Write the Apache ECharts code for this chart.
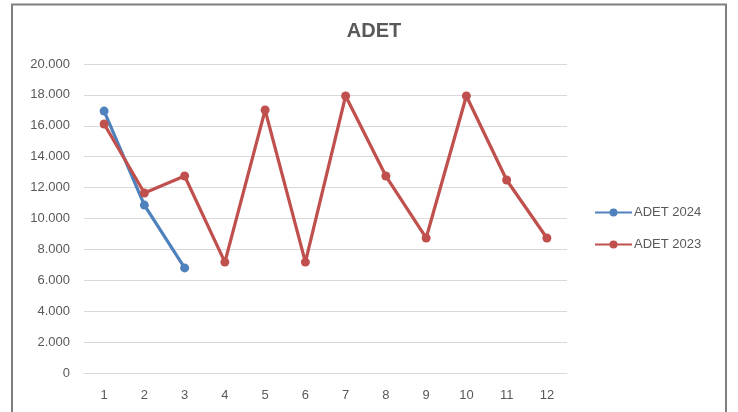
<!DOCTYPE html>
<html>
<head>
<meta charset="utf-8">
<script src="https://cdn.jsdelivr.net/npm/echarts@6/dist/echarts.min.js"></script>
<style>html,body{margin:0;padding:0;background:#fff;}#c{width:738px;height:412px;}</style>
</head>
<body>
<div id="c"></div>
<script>
var categories = ['1','2','3','4','5','6','7','8','9','10','11','12'];
var adet2024 = [16950, 10870, 6800];
var adet2023 = [16120, 11650, 12750, 7180, 17020, 7180, 17930, 12750, 8740, 17930, 12490, 8740];
var seriesNames = ['ADET 2024', 'ADET 2023'];

var chart = echarts.init(document.getElementById('c'), null, {renderer: 'canvas'});
var font = '"Liberation Sans", Arial, sans-serif';
function fmt(v){ return v === 0 ? '0' : String(v).replace(/\B(?=(\d{3})+(?!\d))/g, '.'); }
chart.setOption({
  animation: false,
  backgroundColor: '#fff',
  title: {
    text: 'ADET', left: 369, top: 16, textAlign: 'center',
    textStyle: {fontFamily: font, fontSize: 20, fontWeight: 'bold', color: '#595959'}
  },
  graphic: [{
    type: 'rect', shape: {x: 12, y: 4.5, width: 714, height: 420},
    style: {fill: 'none', stroke: '#7f7f7f', lineWidth: 2}, silent: true
  }],
  legend: {
    orient: 'vertical', left: 594, top: 206, padding: 0, itemGap: 19, itemWidth: 37, itemHeight: 10,
    data: seriesNames,
    textStyle: {fontFamily: font, fontSize: 13, color: '#595959', padding: [0,0,0,-3]}
  },
  grid: {left: 84, right: 171, top: 64, bottom: 39},
  xAxis: {
    type: 'category', data: categories, boundaryGap: true,
    axisLine: {show: true, lineStyle: {color: '#d9d9d9', width: 1}},
    axisTick: {show: false},
    axisLabel: {fontFamily: font, fontSize: 13, color: '#595959', margin: 16}
  },
  yAxis: {
    type: 'value', min: 0, max: 20000, interval: 2000,
    axisLine: {show: false}, axisTick: {show: false},
    splitLine: {lineStyle: {color: '#d9d9d9', width: 1}},
    axisLabel: {fontFamily: font, fontSize: 13, color: '#595959', margin: 14, formatter: fmt}
  },
  series: [{
    name: seriesNames[0], type: 'line', data: adet2024,
    symbol: 'circle', symbolSize: 9,
    lineStyle: {color: '#4f81bd', width: 3.25},
    itemStyle: {color: '#4f81bd'}
  }, {
    name: seriesNames[1], type: 'line', data: adet2023,
    symbol: 'circle', symbolSize: 9,
    lineStyle: {color: '#c0504d', width: 3.25},
    itemStyle: {color: '#c0504d'}
  }]
});
</script>
</body>
</html>
